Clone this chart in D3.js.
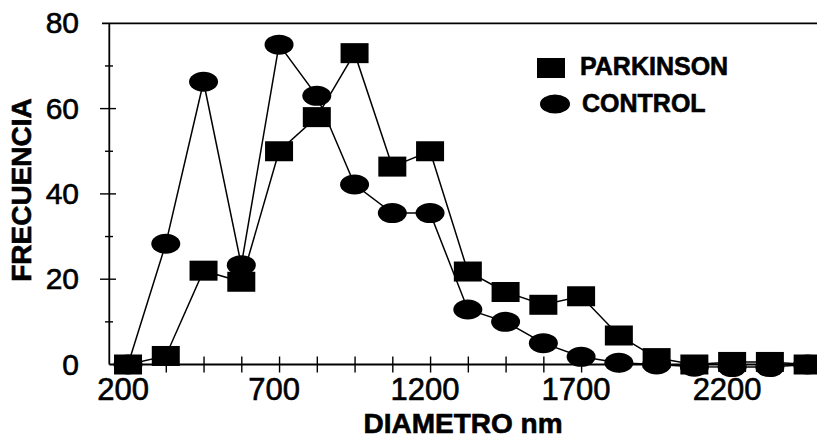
<!DOCTYPE html>
<html>
<head>
<meta charset="utf-8">
<script src="https://cdn.jsdelivr.net/npm/d3@7"></script>
<style>
  body { margin: 0; background: #fff; }
  svg { display: block; font-family: "Liberation Sans", Arial, sans-serif; }
  text { fill: #000; stroke: #000; stroke-width: 0.6px; }
</style>
</head>
<body>
<div id="chart"></div>
<script>
'use strict';

// diameters (nm), one point every 125 nm
const diametro = [200, 325, 450, 575, 700, 825, 950, 1075, 1200, 1325, 1450, 1575, 1700, 1825, 1950, 2075, 2200, 2325, 2450];
const parkinson = [0, 2, 22, 19.4, 50, 58, 73, 46.4, 50, 21.8, 17, 14, 16, 6.8, 1.5, 0, 0.6, 0.6, 0];
const control = [0, 28.3, 66.3, 23.3, 75, 63, 42.2, 35.5, 35.5, 12.9, 10, 5, 1.8, 0.4, 0, -0.5, -0.6, -0.6, 0];

const xLabels = [200, 700, 1200, 1700, 2200];
const yLabels = [0, 20, 40, 60, 80];
const yMinor = [10, 30, 50, 70];

const width = 817, height = 438;

const svg = d3.select('#chart').append('svg')
    .attr('width', width)
    .attr('height', height);

// scales -- axis origin sits at x=109, data range runs off the right edge
const x = d3.scaleLinear()
    .domain([138, 2481])
    .range([109.3, 817]);

const y = d3.scaleLinear()
    .domain([0, 80])
    .range([364.5, 23.3]);

// top border
svg.append('line')
    .attr('x1', 102).attr('x2', width)
    .attr('y1', y(80)).attr('y2', y(80))
    .attr('stroke', '#000')
    .attr('stroke-width', 1.8);

// x axis: ticks every 125, labels every 500
const xAxis = d3.axisBottom(x)
    .tickValues(diametro.slice(1))
    .tickSize(16)
    .tickFormat('');

svg.append('g')
    .attr('class', 'x-axis')
    .attr('transform', `translate(0, ${y(0) - 8})`)
    .call(xAxis)
    .call(g => g.select('.domain').remove())
    .selectAll('line').attr('stroke-width', 1.4);

svg.append('line')
    .attr('x1', x(138)).attr('x2', width)
    .attr('y1', y(0)).attr('y2', y(0))
    .attr('stroke', '#000')
    .attr('stroke-width', 1.8);

svg.append('g')
  .selectAll('text')
    .data(xLabels)
  .enter().append('text')
    .attr('x', d => x(d) - 5)
    .attr('y', 400)
    .attr('text-anchor', 'middle')
    .style('font-size', '31px')
    .text(d => d);

// y axis
svg.append('line')
    .attr('x1', x(138)).attr('x2', x(138))
    .attr('y1', y(0)).attr('y2', y(80))
    .attr('stroke', '#000')
    .attr('stroke-width', 1.8);

svg.append('g')
  .selectAll('line')
    .data(yLabels.slice(1, 4))
  .enter().append('line')
    .attr('x1', 100).attr('x2', 116)
    .attr('y1', d => y(d)).attr('y2', d => y(d))
    .attr('stroke', '#000')
    .attr('stroke-width', 1.4);

svg.append('g')
  .selectAll('line')
    .data(yMinor)
  .enter().append('line')
    .attr('x1', 105).attr('x2', 113)
    .attr('y1', d => y(d)).attr('y2', d => y(d))
    .attr('stroke', '#000')
    .attr('stroke-width', 1.4);

svg.append('g')
  .selectAll('text')
    .data(yLabels)
  .enter().append('text')
    .attr('x', 79)
    .attr('y', d => y(d) + 10)
    .attr('text-anchor', 'end')
    .style('font-size', '30px')
    .text(d => d);

// axis titles
svg.append('text')
    .attr('x', 463)
    .attr('y', 433)
    .attr('text-anchor', 'middle')
    .style('font-size', '28px')
    .style('font-weight', 'bold')
    .text('DIAMETRO nm');

svg.append('text')
    .attr('transform', 'translate(31, 190) rotate(-90)')
    .attr('text-anchor', 'middle')
    .style('font-size', '28px')
    .style('font-weight', 'bold')
    .text('FRECUENCIA');

// series
const line = d3.line()
    .x(d => x(d.x))
    .y(d => y(d.y));

const ctrlData = diametro.map((d, i) => ({ x: d, y: control[i] }));
const parkData = diametro.map((d, i) => ({ x: d, y: parkinson[i] }));

[ctrlData, parkData].forEach(data => {
  svg.append('path')
      .datum(data)
      .attr('d', line)
      .attr('fill', 'none')
      .attr('stroke', '#000')
      .attr('stroke-width', 1.5);
});

svg.append('g')
  .selectAll('ellipse')
    .data(ctrlData)
  .enter().append('ellipse')
    .attr('cx', d => x(d.x))
    .attr('cy', d => y(d.y))
    .attr('rx', 14.5)
    .attr('ry', 10)
    .attr('fill', '#000');

svg.append('g')
  .selectAll('rect')
    .data(parkData)
  .enter().append('rect')
    .attr('x', d => x(d.x) - 14)
    .attr('y', d => y(d.y) - 10)
    .attr('width', 28)
    .attr('height', 20)
    .attr('fill', '#000');

// legend
const legend = svg.append('g').attr('class', 'legend');

legend.append('rect')
    .attr('x', 537).attr('y', 58)
    .attr('width', 28).attr('height', 20)
    .attr('fill', '#000');

legend.append('ellipse')
    .attr('cx', 555).attr('cy', 104)
    .attr('rx', 15).attr('ry', 9.5)
    .attr('fill', '#000');

legend.append('text')
    .attr('x', 580).attr('y', 75)
    .style('font-size', '25px')
    .style('font-weight', 'bold')
    .text('PARKINSON');

legend.append('text')
    .attr('x', 582).attr('y', 112)
    .style('font-size', '25px')
    .style('font-weight', 'bold')
    .text('CONTROL');
</script>
</body>
</html>
